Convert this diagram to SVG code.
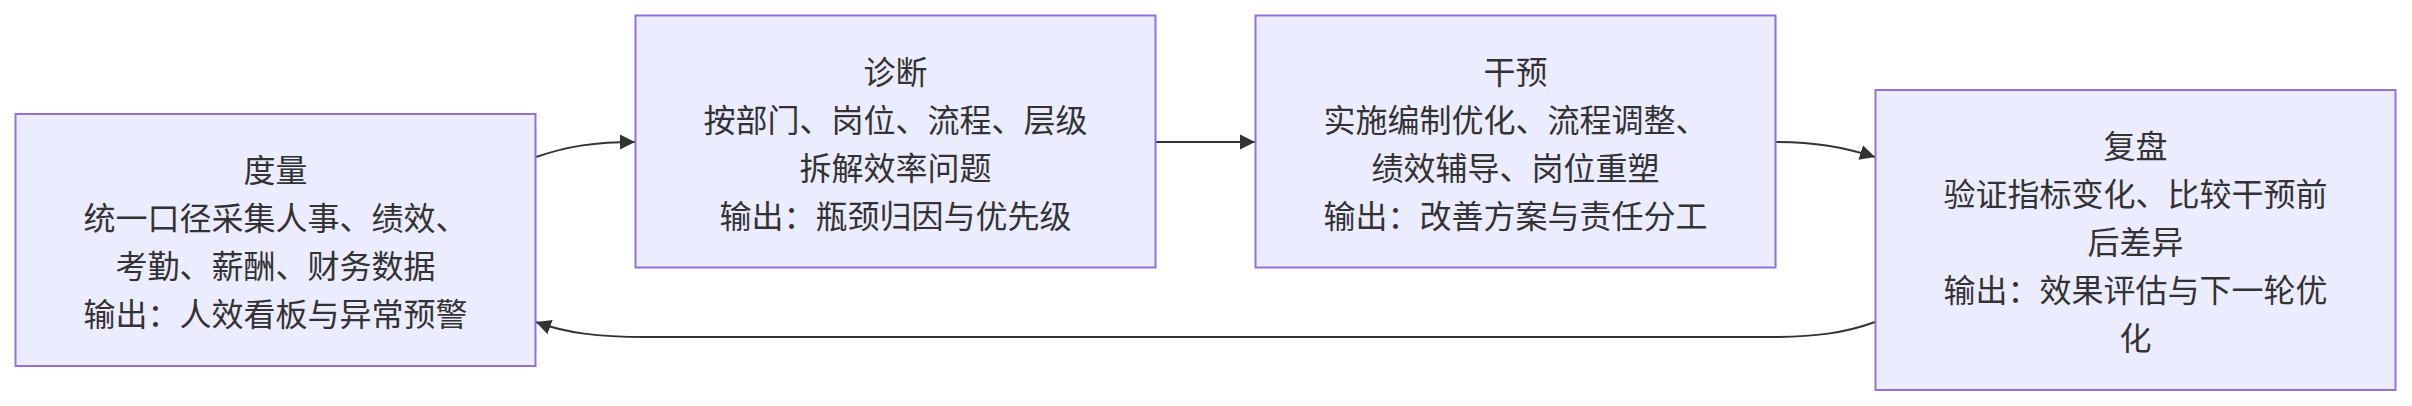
<svg xmlns="http://www.w3.org/2000/svg" width="2412" height="406" viewBox="0 0 2412 406">
<style>
.node rect{fill:#ECECFF;stroke:#9370DB;stroke-width:2}
.node text{font-family:"Noto Sans CJK SC","Noto Sans",sans-serif;font-size:32px;fill:#333;text-anchor:middle;dominant-baseline:central}
.edges path{fill:none;stroke:#333;stroke-width:2}
</style>
<defs>
<marker id="arr" markerUnits="userSpaceOnUse" viewBox="0 0 10 10" refX="10" refY="5" markerWidth="15" markerHeight="16" orient="auto">
<path d="M0,0 L10,5 L0,10 z" fill="#333"/>
</marker>
</defs>
<rect width="2412" height="406" fill="#ffffff"/>
<g class="edges">
<path d="M536,157 C568,146 595,142 635,142" marker-end="url(#arr)"/>
<path d="M1156,142 L1255,142" marker-end="url(#arr)"/>
<path d="M1776,142 C1815,142 1843,147 1875,157" marker-end="url(#arr)"/>
<path d="M1875,322 C1845,333 1815,337 1770,337 L645,337 C598,337 566,333 536,322" marker-end="url(#arr)"/>
</g>
<g class="node" id="n1">
<rect x="15.5" y="114" width="520" height="252"/>
<text><tspan x="275.5" y="168">度量</tspan><tspan x="275.5" y="216">统一口径采集人事、绩效、</tspan><tspan x="275.5" y="264">考勤、薪酬、财务数据</tspan><tspan x="275.5" y="312">输出：人效看板与异常预警</tspan></text>
</g>
<g class="node" id="n2">
<rect x="635.5" y="15.5" width="520" height="252"/>
<text><tspan x="895.5" y="69.5">诊断</tspan><tspan x="895.5" y="117.5">按部门、岗位、流程、层级</tspan><tspan x="895.5" y="165.5">拆解效率问题</tspan><tspan x="895.5" y="213.5">输出：瓶颈归因与优先级</tspan></text>
</g>
<g class="node" id="n3">
<rect x="1255.5" y="15.5" width="520" height="252"/>
<text><tspan x="1515.5" y="69.5">干预</tspan><tspan x="1515.5" y="117.5">实施编制优化、流程调整、</tspan><tspan x="1515.5" y="165.5">绩效辅导、岗位重塑</tspan><tspan x="1515.5" y="213.5">输出：改善方案与责任分工</tspan></text>
</g>
<g class="node" id="n4">
<rect x="1875.5" y="90" width="520" height="300"/>
<text><tspan x="2135.5" y="144">复盘</tspan><tspan x="2135.5" y="192">验证指标变化、比较干预前</tspan><tspan x="2135.5" y="240">后差异</tspan><tspan x="2135.5" y="288">输出：效果评估与下一轮优</tspan><tspan x="2135.5" y="336">化</tspan></text>
</g>
</svg>
